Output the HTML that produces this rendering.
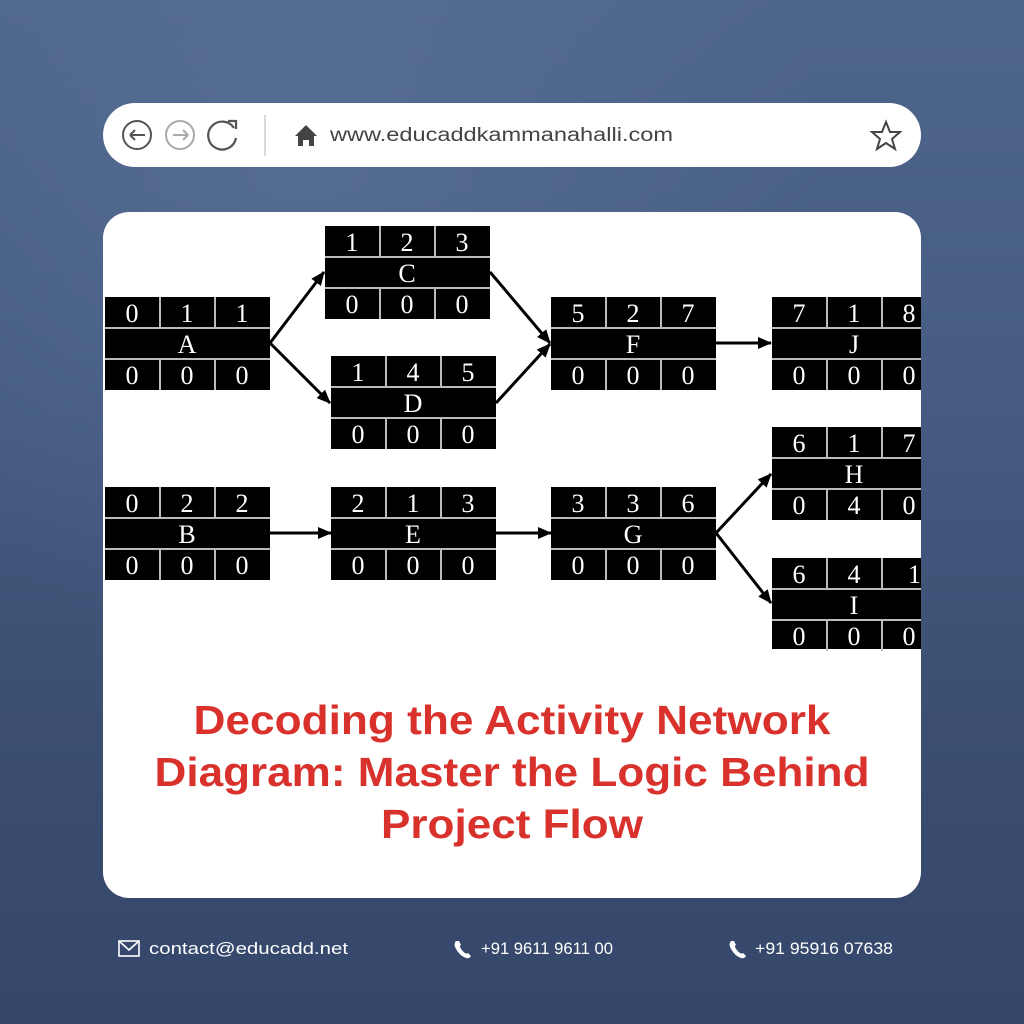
<!DOCTYPE html>
<html><head><meta charset="utf-8"><style>
html,body{margin:0;padding:0;width:1024px;height:1024px;overflow:hidden;}
body{background:linear-gradient(180deg,#4f668c 0%,#455b80 40%,#3a4d70 75%,#34466a 100%);}
</style></head><body>
<svg width="1024" height="1024" viewBox="0 0 1024 1024" xmlns="http://www.w3.org/2000/svg">
<defs>
<radialGradient id="g1" cx="0.3" cy="0.15" r="0.5"><stop offset="0" stop-color="#5b7398" stop-opacity="0.6"/><stop offset="1" stop-color="#5b7398" stop-opacity="0"/></radialGradient>
<clipPath id="card"><rect x="103" y="212" width="818" height="686" rx="26"/></clipPath>
<marker id="ah" markerWidth="14" markerHeight="12" refX="13" refY="6" orient="auto" markerUnits="userSpaceOnUse"><path d="M0,0 L14,6 L0,12 Z" fill="#000"/></marker>
</defs>
<rect width="1024" height="1024" fill="url(#g1)"/>
<rect x="103" y="103" width="818" height="64" rx="32" fill="#fff"/>
<circle cx="137" cy="135" r="14" fill="none" stroke="#555" stroke-width="2"/>
<path d="M130,135 H145 M130,135 l5,-5 M130,135 l5,5" stroke="#555" stroke-width="2" fill="none"/>
<circle cx="180" cy="135" r="14" fill="none" stroke="#aaa" stroke-width="2"/>
<path d="M173,135 H188 M188,135 l-5,-5 M188,135 l-5,5" stroke="#aaa" stroke-width="2" fill="none"/>
<path d="M234,128 A14,14 0 1 0 236,138" stroke="#555" stroke-width="2.2" fill="none"/>
<path d="M228,121 L236,121 L236,129" stroke="#555" stroke-width="2.2" fill="none"/>
<line x1="265" y1="115" x2="265" y2="156" stroke="#ccc" stroke-width="1.5"/>
<path d="M295,136 L306,125 L317,136 L314,136 L314,146 L309,146 L309,140 L303,140 L303,146 L298,146 L298,136 Z" fill="#444"/>
<text x="330" y="141" font-family="Liberation Sans, sans-serif" font-size="19" fill="#444" textLength="343" lengthAdjust="spacingAndGlyphs">www.educaddkammanahalli.com</text>
<path d="M886,122 L890,132 L900,132 L892,139 L895,149 L886,143 L877,149 L880,139 L872,132 L882,132 Z" fill="none" stroke="#444" stroke-width="2"/>
<rect x="103" y="212" width="818" height="686" rx="26" fill="#fff"/>
<g clip-path="url(#card)">
<g stroke="#000" stroke-width="3" fill="none" marker-end="url(#ah)">
<line x1="270" y1="343" x2="324" y2="272"/>
<line x1="270" y1="343" x2="330" y2="403"/>
<line x1="490" y1="272" x2="550" y2="343"/>
<line x1="496" y1="403" x2="550" y2="344"/>
<line x1="716" y1="343" x2="771" y2="343"/>
<line x1="270" y1="533" x2="331" y2="533"/>
<line x1="496" y1="533" x2="551" y2="533"/>
<line x1="716" y1="533" x2="771" y2="474"/>
<line x1="716" y1="533" x2="771" y2="603"/>
</g>
<g font-family="Liberation Serif, serif" font-size="26" fill="#fff" text-anchor="middle">
<g transform="translate(105,297)"><rect width="165" height="93" fill="#000"/><g stroke="#bbb" stroke-width="2"><line x1="0" y1="31" x2="165" y2="31"/><line x1="0" y1="62" x2="165" y2="62"/><line x1="55" y1="0" x2="55" y2="31"/><line x1="110" y1="0" x2="110" y2="31"/><line x1="55" y1="62" x2="55" y2="93"/><line x1="110" y1="62" x2="110" y2="93"/></g><text x="27" y="25">0</text><text x="82" y="25">1</text><text x="137" y="25">1</text><text x="82" y="56">A</text><text x="27" y="87">0</text><text x="82" y="87">0</text><text x="137" y="87">0</text></g>
<g transform="translate(325,226)"><rect width="165" height="93" fill="#000"/><g stroke="#bbb" stroke-width="2"><line x1="0" y1="31" x2="165" y2="31"/><line x1="0" y1="62" x2="165" y2="62"/><line x1="55" y1="0" x2="55" y2="31"/><line x1="110" y1="0" x2="110" y2="31"/><line x1="55" y1="62" x2="55" y2="93"/><line x1="110" y1="62" x2="110" y2="93"/></g><text x="27" y="25">1</text><text x="82" y="25">2</text><text x="137" y="25">3</text><text x="82" y="56">C</text><text x="27" y="87">0</text><text x="82" y="87">0</text><text x="137" y="87">0</text></g>
<g transform="translate(331,356)"><rect width="165" height="93" fill="#000"/><g stroke="#bbb" stroke-width="2"><line x1="0" y1="31" x2="165" y2="31"/><line x1="0" y1="62" x2="165" y2="62"/><line x1="55" y1="0" x2="55" y2="31"/><line x1="110" y1="0" x2="110" y2="31"/><line x1="55" y1="62" x2="55" y2="93"/><line x1="110" y1="62" x2="110" y2="93"/></g><text x="27" y="25">1</text><text x="82" y="25">4</text><text x="137" y="25">5</text><text x="82" y="56">D</text><text x="27" y="87">0</text><text x="82" y="87">0</text><text x="137" y="87">0</text></g>
<g transform="translate(551,297)"><rect width="165" height="93" fill="#000"/><g stroke="#bbb" stroke-width="2"><line x1="0" y1="31" x2="165" y2="31"/><line x1="0" y1="62" x2="165" y2="62"/><line x1="55" y1="0" x2="55" y2="31"/><line x1="110" y1="0" x2="110" y2="31"/><line x1="55" y1="62" x2="55" y2="93"/><line x1="110" y1="62" x2="110" y2="93"/></g><text x="27" y="25">5</text><text x="82" y="25">2</text><text x="137" y="25">7</text><text x="82" y="56">F</text><text x="27" y="87">0</text><text x="82" y="87">0</text><text x="137" y="87">0</text></g>
<g transform="translate(772,297)"><rect width="165" height="93" fill="#000"/><g stroke="#bbb" stroke-width="2"><line x1="0" y1="31" x2="165" y2="31"/><line x1="0" y1="62" x2="165" y2="62"/><line x1="55" y1="0" x2="55" y2="31"/><line x1="110" y1="0" x2="110" y2="31"/><line x1="55" y1="62" x2="55" y2="93"/><line x1="110" y1="62" x2="110" y2="93"/></g><text x="27" y="25">7</text><text x="82" y="25">1</text><text x="137" y="25">8</text><text x="82" y="56">J</text><text x="27" y="87">0</text><text x="82" y="87">0</text><text x="137" y="87">0</text></g>
<g transform="translate(105,487)"><rect width="165" height="93" fill="#000"/><g stroke="#bbb" stroke-width="2"><line x1="0" y1="31" x2="165" y2="31"/><line x1="0" y1="62" x2="165" y2="62"/><line x1="55" y1="0" x2="55" y2="31"/><line x1="110" y1="0" x2="110" y2="31"/><line x1="55" y1="62" x2="55" y2="93"/><line x1="110" y1="62" x2="110" y2="93"/></g><text x="27" y="25">0</text><text x="82" y="25">2</text><text x="137" y="25">2</text><text x="82" y="56">B</text><text x="27" y="87">0</text><text x="82" y="87">0</text><text x="137" y="87">0</text></g>
<g transform="translate(331,487)"><rect width="165" height="93" fill="#000"/><g stroke="#bbb" stroke-width="2"><line x1="0" y1="31" x2="165" y2="31"/><line x1="0" y1="62" x2="165" y2="62"/><line x1="55" y1="0" x2="55" y2="31"/><line x1="110" y1="0" x2="110" y2="31"/><line x1="55" y1="62" x2="55" y2="93"/><line x1="110" y1="62" x2="110" y2="93"/></g><text x="27" y="25">2</text><text x="82" y="25">1</text><text x="137" y="25">3</text><text x="82" y="56">E</text><text x="27" y="87">0</text><text x="82" y="87">0</text><text x="137" y="87">0</text></g>
<g transform="translate(551,487)"><rect width="165" height="93" fill="#000"/><g stroke="#bbb" stroke-width="2"><line x1="0" y1="31" x2="165" y2="31"/><line x1="0" y1="62" x2="165" y2="62"/><line x1="55" y1="0" x2="55" y2="31"/><line x1="110" y1="0" x2="110" y2="31"/><line x1="55" y1="62" x2="55" y2="93"/><line x1="110" y1="62" x2="110" y2="93"/></g><text x="27" y="25">3</text><text x="82" y="25">3</text><text x="137" y="25">6</text><text x="82" y="56">G</text><text x="27" y="87">0</text><text x="82" y="87">0</text><text x="137" y="87">0</text></g>
<g transform="translate(772,427)"><rect width="165" height="93" fill="#000"/><g stroke="#bbb" stroke-width="2"><line x1="0" y1="31" x2="165" y2="31"/><line x1="0" y1="62" x2="165" y2="62"/><line x1="55" y1="0" x2="55" y2="31"/><line x1="110" y1="0" x2="110" y2="31"/><line x1="55" y1="62" x2="55" y2="93"/><line x1="110" y1="62" x2="110" y2="93"/></g><text x="27" y="25">6</text><text x="82" y="25">1</text><text x="137" y="25">7</text><text x="82" y="56">H</text><text x="27" y="87">0</text><text x="82" y="87">4</text><text x="137" y="87">0</text></g>
<g transform="translate(772,558)"><rect width="165" height="91" fill="#000"/><g stroke="#bbb" stroke-width="2"><line x1="0" y1="31" x2="165" y2="31"/><line x1="0" y1="62" x2="165" y2="62"/><line x1="55" y1="0" x2="55" y2="31"/><line x1="110" y1="0" x2="110" y2="31"/><line x1="55" y1="62" x2="55" y2="93"/><line x1="110" y1="62" x2="110" y2="93"/></g><text x="27" y="25">6</text><text x="82" y="25">4</text><text x="136" y="25" text-anchor="start" x2="0">10</text><text x="82" y="56">I</text><text x="27" y="87">0</text><text x="82" y="87">0</text><text x="137" y="87">0</text></g>
</g>
</g>
<g font-family="Liberation Sans, sans-serif" font-weight="bold" font-size="41" fill="#d9322c" text-anchor="middle">
<text x="512" y="734" textLength="637" lengthAdjust="spacingAndGlyphs">Decoding the Activity Network</text>
<text x="512" y="786" textLength="715" lengthAdjust="spacingAndGlyphs">Diagram: Master the Logic Behind</text>
<text x="512" y="838" textLength="262" lengthAdjust="spacingAndGlyphs">Project Flow</text>
</g>
<g font-family="Liberation Sans, sans-serif" font-size="17" fill="#fff">
<rect x="119" y="941" width="20" height="15" fill="none" stroke="#fff" stroke-width="1.6"/>
<path d="M119,941 L129,950 L139,941" fill="none" stroke="#fff" stroke-width="1.6"/>
<text x="149" y="954" textLength="199" lengthAdjust="spacingAndGlyphs">contact@educadd.net</text>
<path d="M456,941 q-3,3 0,8 q4,7 10,9 q3,1 5,-2 l-3,-3 q-2,1 -3,0 q-3,-2 -5,-6 q0,-2 1,-2 l-2,-4 z" fill="#fff"/>
<text x="481" y="954" textLength="132" lengthAdjust="spacingAndGlyphs">+91 9611 9611 00</text>
<path d="M731,941 q-3,3 0,8 q4,7 10,9 q3,1 5,-2 l-3,-3 q-2,1 -3,0 q-3,-2 -5,-6 q0,-2 1,-2 l-2,-4 z" fill="#fff"/>
<text x="755" y="954" textLength="138" lengthAdjust="spacingAndGlyphs">+91 95916 07638</text>
</g>
</svg>
</body></html>
